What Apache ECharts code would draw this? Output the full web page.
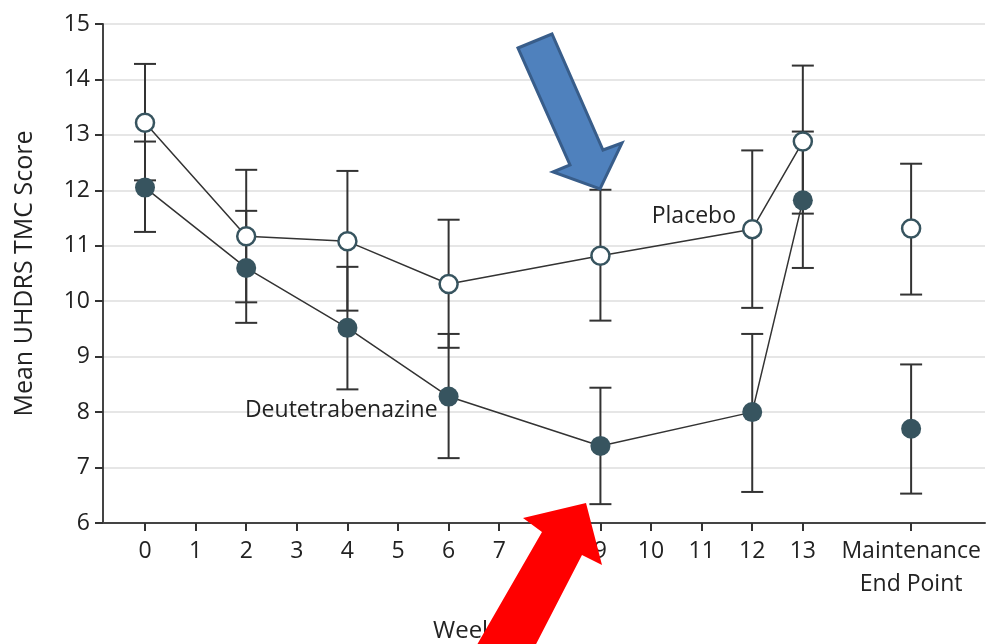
<!DOCTYPE html>
<html>
<head>
<meta charset="utf-8">
<script src="https://cdn.jsdelivr.net/npm/echarts@6/dist/echarts.min.js"></script>
<style>
  html, body { margin: 0; padding: 0; background: #fff; }
  #main { width: 986px; height: 644px; }
</style>
</head>
<body>
<div id="main"></div>
<script>
// x positions: weeks, last one is the maintenance end point
var xPos = [0, 2, 4, 6, 9, 12, 13, 15.14];
var tickVals = [0, 1, 2, 3, 4, 5, 6, 7, 8, 9, 10, 11, 12, 13, 15.14];
var maintLabel = 'Maintenance\nEnd Point';

// Deutetrabenazine
var deutMean = [12.05, 10.6, 9.52, 8.28, 7.39, 8.0, 11.82, 7.7];
var deutLow  = [11.25, 9.61, 8.41, 7.17, 6.34, 6.56, 10.6, 6.53];
var deutHigh = [12.88, 11.63, 10.62, 9.41, 8.44, 9.41, 13.06, 8.86];

// Placebo
var plaMean = [13.22, 11.17, 11.08, 10.31, 10.82, 11.3, 12.88, 11.31];
var plaLow  = [12.18, 9.98, 9.83, 9.16, 9.65, 9.88, 11.58, 10.12];
var plaHigh = [14.28, 12.37, 12.35, 11.47, 12.01, 12.72, 14.25, 12.48];

var dark = '#37545f';
var ink = '#333';
var txt = '#222';
var fontFam = '"Open Sans", "Noto Sans", sans-serif';

function pts(means, withLabelAt, labelOpt) {
  var out = [];
  for (var i = 0; i < 7; i++) {
    var d = { value: [xPos[i], means[i]] };
    if (i === withLabelAt) d.label = labelOpt;
    out.push(d);
  }
  return out;
}

function bars(lo, hi) {
  return xPos.map(function (x, i) { return [x, lo[i], hi[i]]; });
}

function renderBar(params, api) {
  var x = api.value(0);
  var top = api.coord([x, api.value(2)]);
  var bot = api.coord([x, api.value(1)]);
  var half = 11;
  var st = { stroke: ink, lineWidth: 2 };
  return {
    type: 'group',
    children: [
      { type: 'line', shape: { x1: top[0], y1: top[1], x2: bot[0], y2: bot[1] }, style: st },
      { type: 'line', shape: { x1: top[0] - half, y1: top[1], x2: top[0] + half, y2: top[1] }, style: st },
      { type: 'line', shape: { x1: bot[0] - half, y1: bot[1], x2: bot[0] + half, y2: bot[1] }, style: st }
    ]
  };
}

var chart = echarts.init(document.getElementById('main'));

var option = {
  animation: false,
  textStyle: { fontFamily: fontFam },
  grid: { left: 103, right: 1, top: 24, bottom: 121 },
  xAxis: {
    type: 'value',
    min: -0.83,
    max: 16.6,
    axisLine: { onZero: false, lineStyle: { color: '#444', width: 2 } },
    axisTick: { show: true, length: 8, customValues: tickVals, lineStyle: { color: '#333', width: 2 } },
    axisLabel: {
      customValues: tickVals,
      color: txt,
      fontSize: 23,
      margin: 12,
      lineHeight: 33,
      fontFamily: fontFam,
      formatter: function (v) { return v > 14 ? maintLabel : String(v); }
    },
    splitLine: { show: false }
  },
  yAxis: {
    type: 'value',
    min: 6,
    max: 15,
    interval: 1,
    name: 'Mean UHDRS TMC Score',
    nameLocation: 'middle',
    nameGap: 66,
    nameTextStyle: { color: txt, fontSize: 25, fontFamily: fontFam },
    axisLine: { show: true, onZero: false, lineStyle: { color: '#444', width: 2 } },
    axisTick: { show: true, length: 8, lineStyle: { color: '#333', width: 2 } },
    axisLabel: { color: txt, fontSize: 23, margin: 13, fontFamily: fontFam },
    splitLine: { lineStyle: { color: '#e6e6e6', width: 2 } }
  },
  series: [
    {
      type: 'custom',
      name: 'deutErr',
      renderItem: renderBar,
      data: bars(deutLow, deutHigh),
      encode: { x: 0, y: [1, 2] },
      z: 2
    },
    {
      type: 'custom',
      name: 'plaErr',
      renderItem: renderBar,
      data: bars(plaLow, plaHigh),
      encode: { x: 0, y: [1, 2] },
      z: 2
    },
    {
      type: 'line',
      name: 'Deutetrabenazine',
      data: pts(deutMean, 3, {
        show: true, formatter: 'Deutetrabenazine', position: 'left',
        offset: [0, 14], distance: 1, color: txt, fontSize: 23, fontFamily: fontFam
      }),
      symbol: 'circle',
      symbolSize: 20,
      itemStyle: { color: dark },
      lineStyle: { color: ink, width: 1.5 },
      z: 3
    },
    {
      type: 'line',
      name: 'Placebo',
      data: pts(plaMean, 5, {
        show: true, formatter: 'Placebo', position: 'left',
        offset: [0, -13], distance: 6, color: txt, fontSize: 23, fontFamily: fontFam
      }),
      symbol: 'circle',
      symbolSize: 18,
      itemStyle: { color: '#fff', borderColor: dark, borderWidth: 2.5 },
      lineStyle: { color: ink, width: 1.5 },
      z: 4
    },
    {
      type: 'scatter',
      data: [[xPos[7], deutMean[7]]],
      symbol: 'circle',
      symbolSize: 20,
      itemStyle: { color: dark, opacity: 1 },
      z: 3
    },
    {
      type: 'scatter',
      data: [[xPos[7], plaMean[7]]],
      symbol: 'circle',
      symbolSize: 18,
      itemStyle: { color: '#fff', borderColor: dark, borderWidth: 2.5, opacity: 1 },
      z: 4
    }
  ],
  graphic: [
    {
      type: 'text',
      left: 433,
      top: 619,
      style: { text: 'Week', fontSize: 24, fontFamily: fontFam, fill: txt },
      z: 5
    },
    {
      // blue arrow
      type: 'polygon',
      shape: { points: [[518, 48], [552, 34], [603, 150], [622, 143], [600, 189], [553, 172], [570, 165]] },
      style: { fill: '#4f81bd', stroke: '#385d8a', lineWidth: 3 },
      z: 10
    },
    {
      // red arrow
      type: 'polygon',
      shape: { points: [[586, 503], [602, 565], [582, 555], [533, 650], [474, 650], [542, 532], [523, 518]] },
      style: { fill: '#ff0000' },
      z: 10
    }
  ]
};

chart.setOption(option);
</script>
</body>
</html>
